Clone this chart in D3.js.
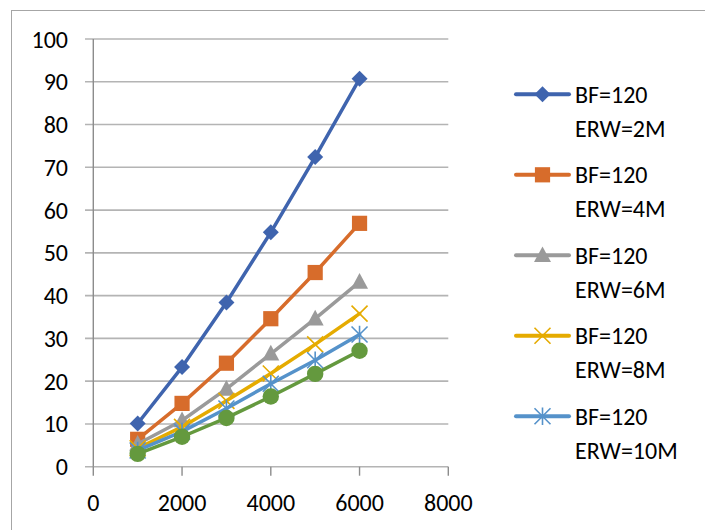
<!DOCTYPE html>
<html>
<head>
<meta charset="utf-8">
<script src="https://cdn.jsdelivr.net/npm/d3@7"></script>
<style>
  html, body { margin: 0; padding: 0; background: #fff; }
  svg { display: block; }
  text { font-family: Carlito, "Open Sans", Lato, "Liberation Sans", sans-serif; fill: #000; }
</style>
</head>
<body>
<svg id="chart" width="705" height="530"></svg>
<script>
// Message count on the x axis
const xValues = [1000, 2000, 3000, 4000, 5000, 6000];
const xTicks = [0, 2000, 4000, 6000, 8000];
const yTicks = [0, 10, 20, 30, 40, 50, 60, 70, 80, 90, 100];

// One series per ERW setting (BF fixed at 120)
const erw2M  = [10.1, 23.3, 38.4, 54.8, 72.4, 90.7];
const erw4M  = [6.4, 14.8, 24.2, 34.6, 45.4, 56.9];
const erw6M  = [5.3, 10.8, 18.2, 26.4, 34.6, 43.2];
const erw8M  = [4.3, 9.3, 15.4, 21.8, 28.6, 35.8];
const erw10M = [3.8, 8.2, 13.6, 19.4, 24.9, 30.9];
const erw12M = [3.0, 7.0, 11.4, 16.4, 21.7, 27.1];

const seriesNames = ["BF=120|ERW=2M", "BF=120|ERW=4M", "BF=120|ERW=6M",
                     "BF=120|ERW=8M", "BF=120|ERW=10M"];
const seriesValues = [erw2M, erw4M, erw6M, erw8M, erw10M, erw12M];
const colors = ["#3f64ae", "#d76c2b", "#9a9a9a", "#e5ab00", "#5592ca", "#64993e"];
const markers = ["diamond", "square", "triangle", "x", "asterisk", "circle"];

const FONT = 24;
const svg = d3.select("#chart");

// Outer chart frame
svg.append("rect")
  .attr("x", 11.5).attr("y", 10.5)
  .attr("width", 700).attr("height", 530)
  .attr("fill", "none").attr("stroke", "#a6a6a6").attr("stroke-width", 1);

const x = d3.scaleLinear().domain([0, 8000]).range([93.3, 448.3]);
const y = d3.scaleLinear().domain([0, 100]).range([466.7, 39]);

// Horizontal gridlines (extend left past the axis as tick marks)
svg.append("g")
  .selectAll("line")
  .data(yTicks)
  .join("line")
  .attr("x1", 85).attr("x2", x.range()[1])
  .attr("y1", d => y(d)).attr("y2", d => y(d))
  .attr("stroke", "#b4b4b4").attr("stroke-width", 1.6);

// Vertical value axis line
svg.append("line")
  .attr("x1", x(0)).attr("x2", x(0))
  .attr("y1", y(100)).attr("y2", y(0))
  .attr("stroke", "#8c8c8c").attr("stroke-width", 1.4);

// X axis ticks
svg.append("g")
  .selectAll("line")
  .data(xTicks)
  .join("line")
  .attr("x1", d => x(d)).attr("x2", d => x(d))
  .attr("y1", y(0)).attr("y2", y(0) + 9)
  .attr("stroke", "#8c8c8c").attr("stroke-width", 1.4);

// Y tick labels
svg.append("g")
  .selectAll("text")
  .data(yTicks)
  .join("text")
  .attr("x", 68).attr("y", d => y(d) + 8.5)
  .attr("text-anchor", "end")
  .attr("font-size", FONT)
  .text(d => d);

// X tick labels
svg.append("g")
  .selectAll("text")
  .data(xTicks)
  .join("text")
  .attr("x", d => x(d)).attr("y", 511)
  .attr("text-anchor", "middle")
  .attr("font-size", FONT)
  .text(d => d);

function drawMarker(g, type, color, s) {
  if (type === "diamond") {
    g.append("path").attr("d", `M0,${-s}L${s},0L0,${s}L${-s},0Z`).attr("fill", color);
  } else if (type === "square") {
    g.append("rect").attr("x", -s * 0.95).attr("y", -s * 0.95)
      .attr("width", s * 1.9).attr("height", s * 1.9).attr("fill", color);
  } else if (type === "triangle") {
    g.append("path").attr("d", `M0,${-s * 1.05}L${s},${s * 0.8}L${-s},${s * 0.8}Z`).attr("fill", color);
  } else if (type === "circle") {
    g.append("circle").attr("r", s).attr("fill", color);
  } else if (type === "x") {
    g.append("path").attr("d", `M${-s},${-s}L${s},${s}M${-s},${s}L${s},${-s}`)
      .attr("stroke", color).attr("stroke-width", 1.6).attr("fill", "none");
  } else if (type === "asterisk") {
    g.append("path").attr("d", `M${-s},${-s}L${s},${s}M${-s},${s}L${s},${-s}M0,${-s * 1.1}L0,${s * 1.1}`)
      .attr("stroke", color).attr("stroke-width", 1.6).attr("fill", "none");
  }
}

const line = d3.line().x((d, i) => x(xValues[i])).y(d => y(d));
const markerSize = [8, 8, 8.5, 8, 8, 8.2];

// Series lines with markers, drawn in order so the last series sits on top
seriesValues.forEach((vals, si) => {
  const g = svg.append("g");
  g.append("path")
    .datum(vals)
    .attr("d", line)
    .attr("fill", "none")
    .attr("stroke", colors[si])
    .attr("stroke-width", 3.5)
    .attr("stroke-linejoin", "round")
    .attr("stroke-linecap", "round");
  vals.forEach((v, i) => {
    const mg = g.append("g").attr("transform", `translate(${x(xValues[i])},${y(v)})`);
    drawMarker(mg, markers[si], colors[si], markerSize[si]);
  });
});

// Legend: the entries that fit inside the frame
const legend = svg.append("g");
seriesNames.forEach((name, si) => {
  const ly = 94.3 + si * 80.5;
  const g = legend.append("g").attr("transform", `translate(0,${ly})`);
  g.append("line")
    .attr("x1", 516).attr("x2", 569)
    .attr("y1", 0).attr("y2", 0)
    .attr("stroke", colors[si]).attr("stroke-width", 4)
    .attr("stroke-linecap", "round");
  const mg = g.append("g").attr("transform", "translate(542.5,0)");
  drawMarker(mg, markers[si], colors[si], markerSize[si]);
  const parts = name.split("|");
  g.append("text").attr("x", 575).attr("y", 8.5).attr("font-size", FONT).text(parts[0]);
  g.append("text").attr("x", 575).attr("y", 42.5).attr("font-size", FONT).text(parts[1]);
});
</script>
</body>
</html>
